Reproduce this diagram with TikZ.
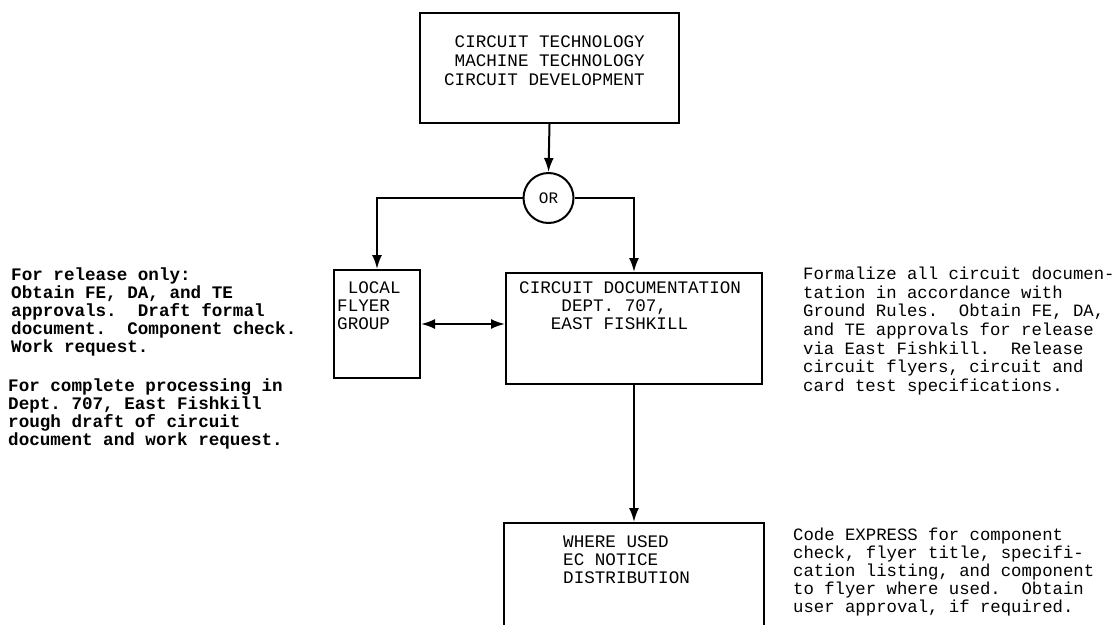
\documentclass[tikz,border=0pt]{standalone}
\usepackage{fontspec}
\setmonofont{Liberation Mono}
\usetikzlibrary{arrows.meta}
\begin{document}
\begin{tikzpicture}[x=1pt,y=-1pt,
  box/.style={draw,line width=2pt,inner sep=0,anchor=north west},
  txt/.style={font=\ttfamily\fontsize{17.6}{18}\selectfont,inner sep=0,align=left,anchor=north west},
  rtxt/.style={font=\ttfamily\fontsize{17.3}{18.6}\selectfont,inner sep=0,align=left,anchor=north west},
  btxt/.style={font=\ttfamily\bfseries\fontsize{17.6}{18}\selectfont,inner sep=0,align=left,anchor=north west},
  arr/.style={line width=2pt,-{Latex[length=14pt,width=10pt]}},
  dbl/.style={line width=2pt,{Latex[length=14pt,width=10pt]}-{Latex[length=14pt,width=10pt]}}
]
\useasboundingbox (0,0) rectangle (1118,624);
\clip (0,0) rectangle (1118,624);
\fill[white] (0,0) rectangle (1118,624);

% boxes
\node[box,minimum width=259pt,minimum height=110pt] (top) at (419,12) {};
\node[draw,circle,line width=2pt,minimum size=50pt,inner sep=0,
  font=\ttfamily\fontsize{16}{16}\selectfont] (or) at (548.5,198) {OR};
\node[box,minimum width=86pt,minimum height=108pt] (local) at (333,269) {};
\node[box,minimum width=256pt,minimum height=111pt] (doc) at (505,272) {};
\node[box,minimum width=260pt,minimum height=140pt] (used) at (503,522) {};

% box texts
\node[txt,align=right,anchor=north east,font=\ttfamily\fontsize{17.6}{19}\selectfont] (toptxt) at (645,36)
  {CIRCUIT TECHNOLOGY\\MACHINE TECHNOLOGY\\CIRCUIT DEVELOPMENT};
\node[txt] (localtxt) at (337,282) {\hspace*{0.6em}LOCAL\\FLYER\\GROUP};
\node[txt] (doctxt) at (519,282)
  {CIRCUIT DOCUMENTATION\\\hspace*{2.4em}DEPT. 707,\\\hspace*{1.8em}EAST FISHKILL};
\node[txt] (usedtxt) at (563,536) {WHERE USED\\EC NOTICE\\DISTRIBUTION};

% side notes
\node[btxt] (note1) at (11,268)
  {For release only:\\Obtain FE, DA, and TE\\approvals.~ Draft formal\\document.~ Component check.\\Work request.};
\node[btxt] (note2) at (8,379)
  {For complete processing in\\Dept. 707, East Fishkill\\rough draft of circuit\\document and work request.};
\node[rtxt] (note3) at (803,267)
  {Formalize all circuit documen-\\tation in accordance with\\Ground Rules.~ Obtain FE, DA,\\and TE approvals for release\\via East Fishkill.~ Release\\circuit flyers, circuit and\\card test specifications.};
\node[rtxt,font=\ttfamily\fontsize{17.3}{18}\selectfont] (note4) at (793,528)
  {Code EXPRESS for component\\check, flyer title, specifi-\\cation listing, and component\\to flyer where used.~ Obtain\\user approval, if required.};

% connectors
\draw[arr] (top.south) -- (or.north);
\draw[arr] (or.west) -| (local.north);
\draw[arr] (or.east) -| (doc.north);
\draw[dbl] (local.east) -- (local.east -| doc.west);
\draw[arr] (doc.south) -- (used.north);
\end{tikzpicture}
\end{document}
